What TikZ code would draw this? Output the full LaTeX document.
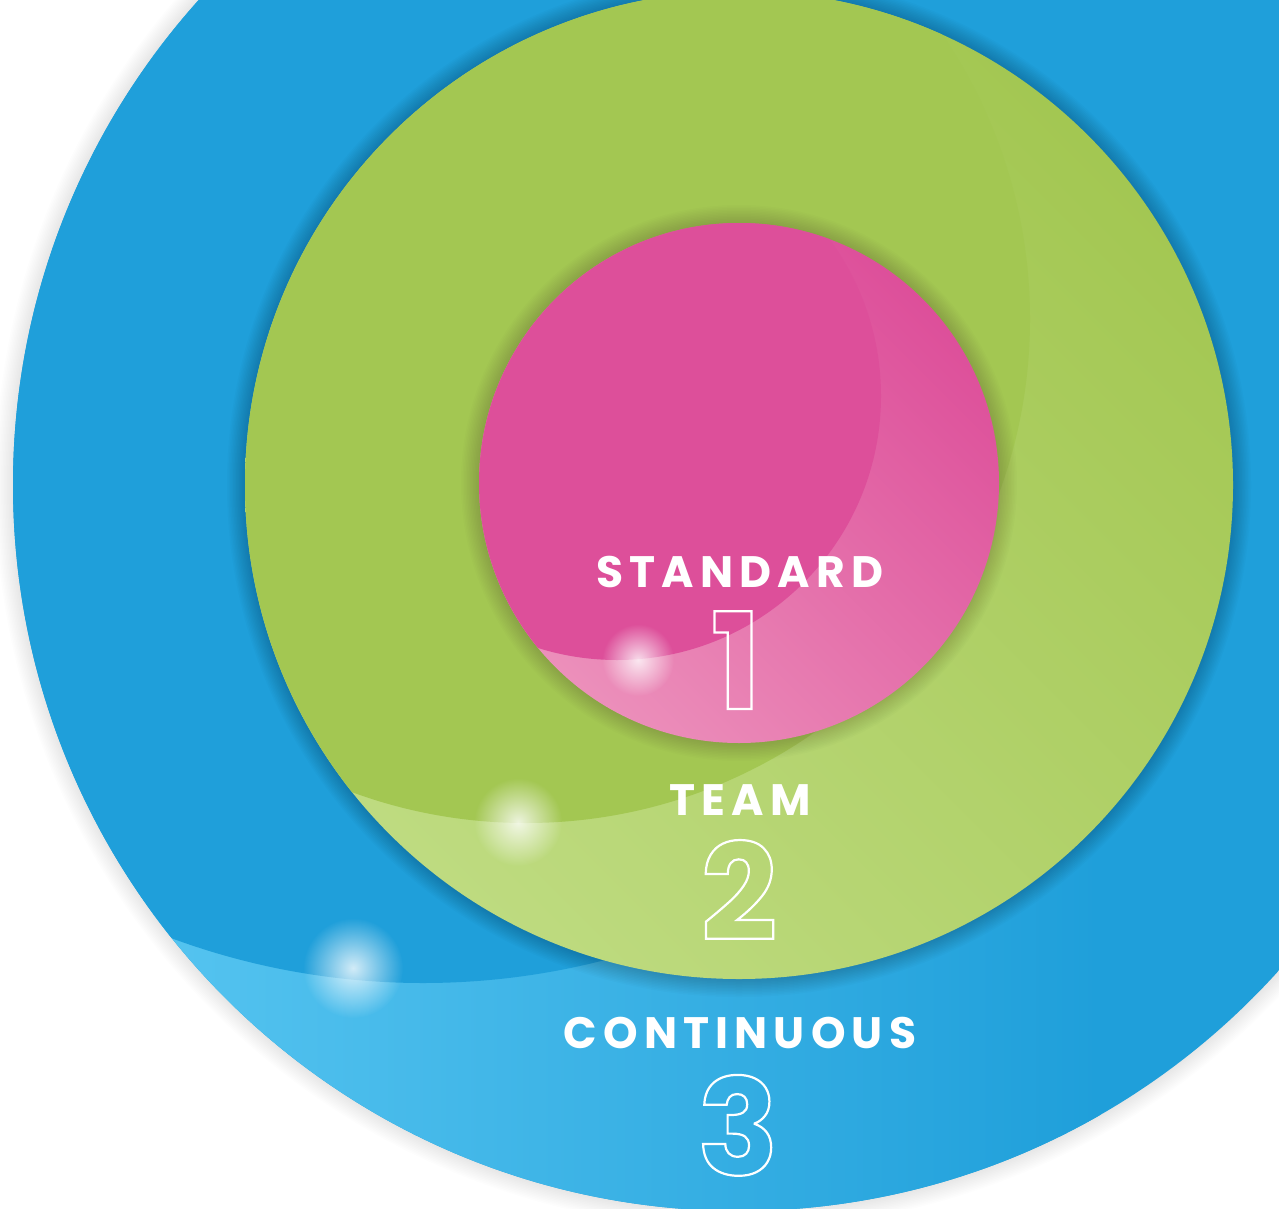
\documentclass[tikz,border=0pt]{standalone}
\usepackage{fontspec}
\setmainfont{Poppins}
\newfontfamily\lblfont[LetterSpace=14]{Poppins}
\usetikzlibrary{fadings}
\definecolor{cblue}{HTML}{1F9FDA}
\definecolor{blueL}{HTML}{55C4F0}
\definecolor{cgreen}{HTML}{A3C752}
\definecolor{greenL}{HTML}{BEDB80}
\definecolor{cpink}{HTML}{DD4F9A}
\definecolor{pinkL}{HTML}{EC90BB}
\tikzfading[name=glowfade, inner color=transparent!20, outer color=transparent!100]
\tikzset{
  lbl/.style={text=white, inner sep=0pt, anchor=base, font=\lblfont\bfseries\fontsize{44}{50}\selectfont},
  num/.style={text=white, inner sep=0pt, anchor=base, text depth=0pt, font=\bfseries\fontsize{134}{150}\selectfont},
}
\newcommand{\outl}[1]{\special{pdf:literal direct 1 Tr 2.2 w}#1\special{pdf:literal direct 0 Tr}}
\begin{document}
\begin{tikzpicture}[x=1pt,y=-1pt]
\useasboundingbox (0,0) rectangle (1279,1209);
\clip (0,0) rectangle (1279,1209);
\fill[white] (0,0) rectangle (1279,1209);
% blue ring
\foreach \k in {1,...,12} \fill[black,opacity=0.008] (739,485) circle ({726pt+\k*1.5pt});
\begin{scope}
  \clip (739,485) circle (726pt);
  \fill[cblue] (0,-300) rectangle (1279,1215);
  \shade[left color=blueL, right color=cblue] (150,-300) rectangle (1100,1215);
  \fill[cblue] (423,258) circle (725pt);
\end{scope}
\fill[white, path fading=glowfade] (353,968) circle (50pt);
% green
\foreach \k in {1,...,12} \fill[black,opacity=0.014] (739,485) circle ({494pt+\k*1.5pt});
\begin{scope}
  \clip (739,485) circle (494pt);
  \shade[top color=cgreen, bottom color=greenL, shading angle=-45] (245,-10) rectangle (1235,980);
  \fill[cgreen] (526,319) circle (504pt);
\end{scope}
\fill[white, path fading=glowfade] (518,822) circle (44pt);
% pink
\foreach \k in {1,...,12} \fill[black,opacity=0.012] (739,483) circle ({260pt+\k*1.5pt});
\begin{scope}
  \clip (739,483) circle (260pt);
  \shade[top color=cpink, bottom color=pinkL, shading angle=-45] (475,220) rectangle (1000,750);
  \fill[cpink] (617,396) circle (264pt);
\end{scope}
\fill[white, path fading=glowfade] (638,660) circle (36pt);
% labels
\node[lbl] (standard) at (740,587) {STANDARD};
\node[num] (one) at (736,709) {\outl{1}};
\node[lbl] (team) at (740,815) {TEAM};
\node[num] (two) at (739,940) {\outl{2}};
\node[lbl] (continuous) at (740,1048) {CONTINUOUS};
\node[num] (three) at (738,1175) {\outl{3}};
\end{tikzpicture}
\end{document}
